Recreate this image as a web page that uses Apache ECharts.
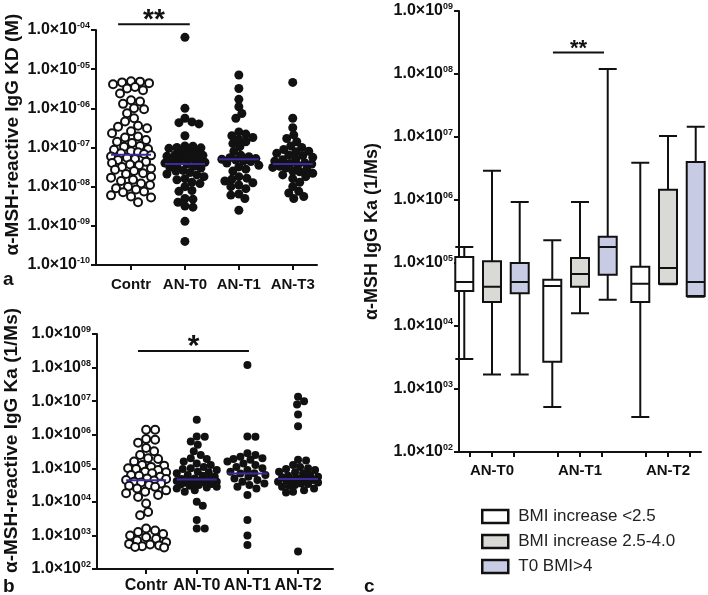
<!DOCTYPE html>
<html><head><meta charset="utf-8">
<script src="https://cdn.jsdelivr.net/npm/echarts@6/dist/echarts.min.js"></script>
<style>html,body{margin:0;padding:0;background:#fff}#c{width:708px;height:595px}</style>
</head><body><div id="c"></div>
<script>
const FONT = '"Liberation Sans", Arial, Helvetica, sans-serif';

// ---------- Panel a : alpha-MSH-reactive IgG KD (M) ----------
const aCategories = ['Contr', 'AN-T0', 'AN-T1', 'AN-T3'];
const aContr = [4.8e-6,4.6e-6,4.9e-6,4.4e-6,4.1e-6,3.5e-6,3.2e-6,2.9e-6,2.4e-6,1.6e-6,1.5e-6,1.3e-6,1.0e-6,9.5e-7,7.5e-7,5.6e-7,4.6e-7,3.4e-7,3.1e-7,3.6e-7,2.6e-7,2.3e-7,1.9e-7,1.8e-7,1.55e-7,1.4e-7,1.3e-7,1.05e-7,1.1e-7,8.7e-8,9.2e-8,8.0e-8,7.1e-8,7.6e-8,6.8e-8,5.9e-8,6.3e-8,5.5e-8,4.8e-8,5.1e-8,4.0e-8,4.3e-8,3.7e-8,3.2e-8,3.5e-8,2.7e-8,2.9e-8,2.5e-8,2.2e-8,2.1e-8,1.8e-8,1.7e-8,1.5e-8,1.4e-8,1.2e-8,1.1e-8,1.0e-8,9.1e-9,8.5e-9,7.5e-9,7.2e-9,6.0e-9,5.6e-9,5.3e-9,4.0e-9];
const aT0 = [6.5e-5,1.0e-6,5.6e-7,4.5e-7,4.3e-7,4.0e-7,2.0e-7,1.1e-7,1.08e-7,1.0e-7,9.8e-8,9.5e-8,8.0e-8,7.8e-8,7.5e-8,6.5e-8,6.3e-8,6.0e-8,5.8e-8,5.2e-8,5.0e-8,4.8e-8,4.6e-8,4.2e-8,4.0e-8,3.8e-8,3.6e-8,3.3e-8,3.1e-8,3.0e-8,2.6e-8,2.5e-8,2.3e-8,2.1e-8,2.0e-8,1.8e-8,1.6e-8,1.5e-8,1.3e-8,1.2e-8,1.0e-8,8.0e-9,7.6e-9,5.0e-9,4.8e-9,4.0e-9,3.2e-9,3.0e-9,1.3e-9,4.0e-10];
const aT1 = [7.1e-6,3.2e-6,1.7e-6,1.1e-6,7.4e-7,5.6e-7,2.5e-7,2.2e-7,2.0e-7,1.8e-7,1.6e-7,1.4e-7,1.26e-7,1.05e-7,7.9e-8,6.3e-8,5.8e-8,5.5e-8,5.2e-8,5.0e-8,4.8e-8,4.6e-8,4.4e-8,4.0e-8,3.5e-8,3.2e-8,2.8e-8,2.5e-8,1.8e-8,1.65e-8,1.55e-8,1.4e-8,1.26e-8,1.1e-8,1.0e-8,8.9e-9,6.5e-9,6.1e-9,5.0e-9,2.5e-9];
const aT3 = [4.6e-6,5.6e-7,3.2e-7,2.1e-7,1.7e-7,1.4e-7,1.1e-7,1.0e-7,8.9e-8,8.0e-8,7.8e-8,7.1e-8,6.4e-8,6.2e-8,5.6e-8,5.1e-8,4.9e-8,4.5e-8,4.1e-8,3.9e-8,3.8e-8,3.5e-8,3.3e-8,3.1e-8,3.0e-8,2.8e-8,2.5e-8,2.4e-8,2.2e-8,2.0e-8,1.8e-8,1.6e-8,1.3e-8,1.0e-8,7.6e-9,6.9e-9,5.6e-9,5.0e-9];
const aMedians = [6.5e-8, 3.8e-8, 5.0e-8, 3.8e-8];
const aYMin = 1e-10, aYMax = 1e-4;
const aTitle = 'α-MSH-reactive IgG KD (M)';
const aSig = { from: -0.24, to: 1.09, y: 1.4e-4, text: '**' };

// ---------- Panel b : alpha-MSH-reactive IgG Ka (1/Ms) ----------
const bCategories = ['Contr', 'AN-T0', 'AN-T1', 'AN-T2'];
const bContr = [1.4e6,1.4e6,7.1e5,7.4e5,5.8e5,4.0e5,3.2e5,2.5e5,2.0e5,1.9e5,1.6e5,1.26e5,1.2e5,1.1e5,1.0e5,9.6e4,8.9e4,7.9e4,7.6e4,7.1e4,6.3e4,6.0e4,5.6e4,5.0e4,4.8e4,4.5e4,4.3e4,4.0e4,3.8e4,3.5e4,3.2e4,3.0e4,2.8e4,2.5e4,2.2e4,2.0e4,1.8e4,1.6e4,1.4e4,8.9e3,5.0e3,4.0e3,1.6e3,1.4e3,1.26e3,1.1e3,1.0e3,8.9e2,7.9e2,7.1e2,6.3e2,5.6e2,5.4e2,5.0e2,4.8e2,4.5e2,4.4e2];
const bT0 = [2.8e6,8.9e5,8.7e5,6.3e5,5.0e5,3.2e5,2.5e5,2.0e5,1.9e5,1.6e5,1.4e5,1.26e5,1.1e5,1.0e5,9.6e4,8.9e4,7.9e4,7.6e4,7.1e4,6.3e4,6.0e4,5.6e4,5.0e4,4.8e4,4.7e4,4.5e4,4.3e4,4.2e4,4.0e4,3.8e4,3.7e4,3.5e4,3.4e4,3.3e4,3.2e4,3.0e4,2.8e4,2.7e4,2.5e4,2.2e4,2.0e4,1.0e4,7.6e3,2.9e3,1.6e3,1.6e3];
const bT1 = [1.2e8,8.7e5,8.9e5,2.8e5,2.5e5,2.2e5,2.0e5,1.9e5,1.8e5,1.6e5,1.4e5,1.26e5,1.1e5,1.0e5,8.9e4,7.9e4,7.1e4,7.0e4,6.3e4,5.6e4,5.0e4,4.5e4,4.0e4,3.5e4,3.2e4,2.8e4,2.5e4,1.6e4,2.9e3,1.0e3,5.2e2];
const bT2 = [1.35e7,1.0e7,7.9e6,4.0e6,1.8e6,1.8e5,1.7e5,1.26e5,1.1e5,1.0e5,9.6e4,8.9e4,7.9e4,7.6e4,7.1e4,6.3e4,6.0e4,5.6e4,5.4e4,5.0e4,4.9e4,4.7e4,4.5e4,4.3e4,4.0e4,3.8e4,3.5e4,3.4e4,3.2e4,3.0e4,2.8e4,2.5e4,2.2e4,2.0e4,1.9e4,3.3e2];
const bMedians = [4.4e4, 4.6e4, 7.0e4, 4.8e4];
const bYMin = 1e2, bYMax = 1e9;
const bTitle = 'α-MSH-reactive IgG Ka (1/Ms)';
const bSig = { from: -0.16, to: 2.03, y: 3.1e8, text: '*' };

// ---------- Panel c : box plots ----------
const cGroups = ['AN-T0', 'AN-T1', 'AN-T2'];
const cSeriesNames = ['BMI increase <2.5', 'BMI increase 2.5-4.0', 'T0 BMI>4'];
// [min, Q1, median, Q3, max] per group
const cBmiLow  = [[3.0e3, 3.6e4, 5.0e4, 1.25e5, 1.8e5], [5.2e2, 2.7e3, 4.3e4, 5.4e4, 2.3e5], [3.6e2, 2.4e4, 4.7e4, 8.7e4, 3.9e6]];
const cBmiMid  = [[1.7e3, 2.4e4, 4.2e4, 1.07e5, 2.9e6], [1.6e4, 4.2e4, 6.7e4, 1.2e5, 9.3e5], [4.6e4, 4.7e4, 8.3e4, 1.45e6, 1.04e7]];
const cBmiHigh = [[1.7e3, 3.3e4, 5.0e4, 1.0e5, 9.3e5], [2.6e4, 6.5e4, 1.8e5, 2.6e5, 1.2e8], [2.9e4, 3.0e4, 5.0e4, 4.0e6, 1.45e7]];
const cYMin = 1e2, cYMax = 1e9;
const cTitle = 'α-MSH IgG Ka (1/Ms)';
const cSig = { from: 3.77, to: 6.09, y: 2.2e8, text: '**' };

// ---------- styling ----------
const INK = '#111';
const MEDIAN = '#3b2b9c';
const cFills = ['#ffffff', '#d9d9d5', '#c8cbe4'];
const axisLine = { show: true, onZero: false, lineStyle: { color: INK, width: 2 } };
const axisTick = { show: true, length: 5, lineStyle: { color: INK, width: 2 } };

function expLabel(v) {
  const e = Math.round(Math.log10(v));
  const s = (e < 0 ? '-' : '') + String(Math.abs(e)).padStart(2, '0');
  return '1.0×10{s|' + s + '}';
}
function yLabel(size) {
  return {
    formatter: expLabel, fontFamily: FONT, fontWeight: 'bold', fontSize: size, color: INK, margin: 6,
    rich: { s: { fontFamily: FONT, fontWeight: 'bold', fontSize: 9, verticalAlign: 'top', padding: [0, 0, 8, 0], color: INK } }
  };
}
function nameStyle(size, shift) { return { fontFamily: FONT, fontWeight: 'bold', fontSize: size, color: INK, padding: [0, 0, 0, shift] }; }

// category slots for panel c: 3 boxes per group, a gap slot between groups
const cSlots = [], cSlotBox = [];
cGroups.forEach((g, gi) => {
  for (let k = 0; k < 3; k++) { cSlots.push(g + '#' + k); cSlotBox.push(k); }
  if (gi < cGroups.length - 1) { cSlots.push('gap' + gi); cSlotBox.push(-1); }
});

const chart = echarts.init(document.getElementById('c'), null, { width: 708, height: 595 });

function medianSeries(xi, meds) {
  return {
    type: 'custom', xAxisIndex: xi, yAxisIndex: xi, silent: true, z: 5,
    data: meds.map((m, i) => [i, m]),
    renderItem: (p, api) => {
      const c = api.coord([api.value(0), api.value(1)]);
      return { type: 'line', shape: { x1: c[0] - 20, y1: c[1], x2: c[0] + 20, y2: c[1] }, style: { stroke: MEDIAN, lineWidth: 2 } };
    }
  };
}
function sigSeries(xi, sig, size, dy) {
  return {
    type: 'custom', xAxisIndex: xi, yAxisIndex: xi, silent: true, clip: false, z: 6,
    data: [[0, sig.y]],
    renderItem: (p, api) => {
      const y = api.value(1);
      const c0 = api.coord([0, y]), c1 = api.coord([1, y]);
      const u = c1[0] - c0[0];
      const xa = c0[0] + sig.from * u, xb = c0[0] + sig.to * u;
      return {
        type: 'group', children: [
          { type: 'line', shape: { x1: xa, y1: c0[1], x2: xb, y2: c0[1] }, style: { stroke: INK, lineWidth: 2 } },
          { type: 'text', style: { text: sig.text, x: (xa + xb) / 2, y: c0[1] + dy, align: 'center', verticalAlign: 'middle', font: 'bold ' + size + 'px ' + FONT, fill: INK } }
        ]
      };
    }
  };
}
function xValueAxis(gi, cats, min, max, fs, margin) {
  const vals = cats.map((c, i) => i);
  return {
    gridIndex: gi, type: 'value', min: min, max: max, splitLine: { show: false },
    axisLine: axisLine, axisTick: Object.assign({ customValues: vals }, axisTick),
    axisLabel: { customValues: vals, formatter: v => cats[Math.round(v)], fontFamily: FONT, fontWeight: 'bold', fontSize: fs, color: INK, margin: margin }
  };
}
function yLogAxis(gi, min, max, title, titleSize, gap, labelSize, shift) {
  return {
    gridIndex: gi, type: 'log', logBase: 10, min: min, max: max, splitLine: { show: false },
    axisLine: axisLine, axisTick: axisTick, axisLabel: yLabel(labelSize),
    name: title, nameLocation: 'middle', nameRotate: 90, nameGap: gap, nameTextStyle: nameStyle(titleSize, shift)
  };
}

const option = {
  animation: false,
  backgroundColor: '#fff',
  grid: [
    { left: 96, top: 30, width: 221, height: 235, containLabel: false, outerBoundsMode: 'none' },
    { left: 97, top: 334, width: 236, height: 235, containLabel: false, outerBoundsMode: 'none' },
    { left: 459, top: 11, width: 242, height: 441, containLabel: false, outerBoundsMode: 'none' }
  ],
  xAxis: [
    xValueAxis(0, aCategories, -0.65, 3.45, 15, 12),
    xValueAxis(1, bCategories, -0.97, 3.69, 16, 9),
    {
      gridIndex: 2, type: 'category', data: cSlots, boundaryGap: true, splitLine: { show: false },
      axisLine: axisLine,
      axisTick: Object.assign({ alignWithLabel: true, interval: (i) => cSlotBox[i] >= 0 }, axisTick),
      axisLabel: { interval: 0, formatter: (v, i) => (cSlotBox[i] === 1 ? v.split('#')[0] : ''), fontFamily: FONT, fontWeight: 'bold', fontSize: 15, color: INK, margin: 11 }
    }
  ],
  yAxis: [
    yLogAxis(0, aYMin, aYMax, aTitle, 19, 74, 16, 26),
    yLogAxis(1, bYMin, bYMax, bTitle, 19, 76, 16, 22),
    yLogAxis(2, cYMin, cYMax, cTitle, 18, 78, 16, 0)
  ],
  legend: {
    data: cSeriesNames.map((n, k) => ({ name: n, itemStyle: { color: cFills[k], borderColor: INK, borderWidth: 2.5 } })),
    orient: 'vertical', left: 476, top: 503, icon: 'rect',
    itemWidth: 26, itemHeight: 13, itemGap: 8, selectedMode: false,
    textStyle: { fontFamily: FONT, fontSize: 17, color: '#222', padding: [0, 0, 0, 5] }
  },
  graphic: [
    { type: 'text', left: 3, top: 270, style: { text: 'a', font: 'bold 19px ' + FONT, fill: INK } },
    { type: 'text', left: 3, top: 577, style: { text: 'b', font: 'bold 19px ' + FONT, fill: INK } },
    { type: 'text', left: 364, top: 577, style: { text: 'c', font: 'bold 19px ' + FONT, fill: INK } }
  ],
  series: []
};
chart.setOption(option);

// bee-swarm layout of the scatter columns, computed through the library's own scales
function swarm(values, gi, ci, minDist, maxHalf) {
  const x0 = chart.convertToPixel({ gridIndex: gi }, [ci, values[0]])[0];
  const x1 = chart.convertToPixel({ gridIndex: gi }, [ci + 1, values[0]])[0];
  const unit = x1 - x0;
  const pts = values.map(v => ({ v: v, py: chart.convertToPixel({ gridIndex: gi }, [ci, v])[1] }));
  pts.sort((a, b) => a.py - b.py);
  const placed = [];
  pts.forEach(p => {
    let best = 0, bestScore = -1;
    for (let k = 0; k <= 2 * maxHalf; k++) {
      const dx = (k % 2 ? 1 : -1) * Math.ceil(k / 2);
      let minD = Infinity;
      for (const q of placed) {
        if (Math.abs(q.py - p.py) > minDist) continue;
        const d = Math.hypot(dx - q.dx, p.py - q.py);
        if (d < minD) minD = d;
      }
      if (minD >= minDist) { best = dx; bestScore = minD; break; }
      if (minD > bestScore) { bestScore = minD; best = dx; }
    }
    p.dx = best; placed.push(p);
  });
  return pts.map(p => [ci + p.dx / unit, p.v]);
}
function scatterSeries(gi, ci, values, open, size) {
  return {
    type: 'scatter', xAxisIndex: gi, yAxisIndex: gi, silent: true, z: 3,
    symbol: 'circle', symbolSize: size,
    itemStyle: open ? { color: '#fff', borderColor: INK, borderWidth: 2, opacity: 1 } : { color: INK, opacity: 1 },
    data: swarm(values, gi, ci, open ? 8.5 : 7.2, 20)
  };
}

const aGroups = [aContr, aT0, aT1, aT3];
const bGroups = [bContr, bT0, bT1, bT2];
const cBoxes = [cBmiLow, cBmiMid, cBmiHigh];
const series = [];
aGroups.forEach((vals, i) => series.push(scatterSeries(0, i, vals, i === 0, i === 0 ? 8 : 9)));
bGroups.forEach((vals, i) => series.push(scatterSeries(1, i, vals, i === 0, 8)));
series.push(medianSeries(0, aMedians));
series.push(medianSeries(1, bMedians));
series.push(sigSeries(0, aSig, 28, -4));
series.push(sigSeries(1, bSig, 30, -4));
series.push(sigSeries(2, cSig, 22, -3));
cBoxes.forEach((boxes, k) => {
  series.push({
    type: 'boxplot', name: cSeriesNames[k], xAxisIndex: 2, yAxisIndex: 2, silent: true,
    boxWidth: [18, 18], encode: { x: 0, y: [1, 2, 3, 4, 5] },
    itemStyle: { color: cFills[k], borderColor: INK, borderWidth: 2 },
    data: boxes.map((b, g) => [g * 4 + k].concat(b))
  });
});
chart.setOption({ series: series });
</script>
</body></html>
